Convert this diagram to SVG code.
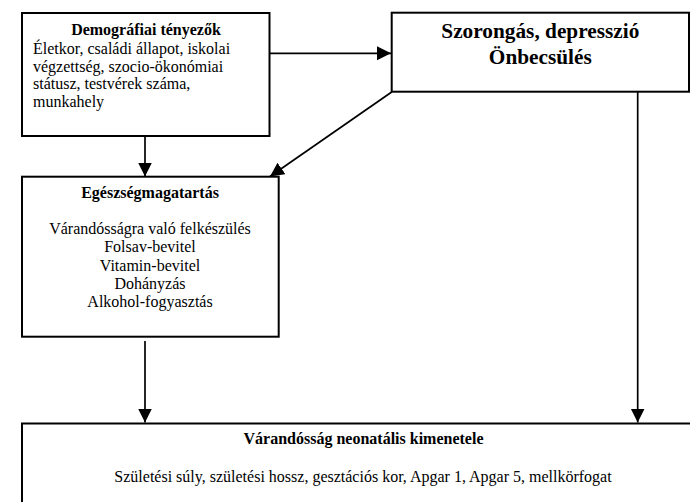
<svg xmlns="http://www.w3.org/2000/svg" width="690" height="502" viewBox="0 0 690 502">
  <style>
    .box { fill: #ffffff; stroke: #000000; stroke-width: 2; }
    .txt { font-family: "Liberation Serif", "Times New Roman", serif; font-size: 16px; fill: #000000; }
    .b { font-weight: bold; }
    .c { text-anchor: middle; }
    .big { font-size: 21.3px; }
    .conn { stroke: #000000; stroke-width: 1.7; fill: none; marker-end: url(#arrow); }
  </style>
  <defs>
    <marker id="arrow" markerUnits="userSpaceOnUse" markerWidth="15" markerHeight="15" refX="14" refY="7" orient="auto">
      <path d="M0,0 L14,7 L0,14 Z" fill="#000000"/>
    </marker>
  </defs>
  <rect width="690" height="502" fill="#ffffff"/>

  <!-- connectors -->
  <g id="connectors">
    <line class="conn" x1="269.5" y1="53.3" x2="391" y2="53.3"/>
    <line class="conn" x1="145" y1="136" x2="145" y2="176.5"/>
    <line class="conn" x1="391.7" y1="92" x2="270" y2="176.5"/>
    <line class="conn" x1="145" y1="341" x2="145" y2="422.5"/>
    <line class="conn" x1="637.7" y1="92" x2="637.7" y2="422.5"/>
  </g>

  <!-- demographic factors -->
  <g id="demografiai">
    <rect class="box" x="22" y="13" width="247.5" height="123"/>
    <text class="txt b c" x="146" y="35">Demográfiai tényezők</text>
    <text class="txt" x="33" y="54">Életkor, családi állapot, iskolai</text>
    <text class="txt" x="33" y="71.5">végzettség, szocio-ökonómiai</text>
    <text class="txt" x="33" y="89">státusz, testvérek száma,</text>
    <text class="txt" x="33" y="106.5">munkahely</text>
  </g>

  <!-- anxiety, depression, self-esteem -->
  <g id="szorongas">
    <rect class="box" x="391.7" y="12.7" width="297.3" height="79"/>
    <text class="txt big b c" x="540.3" y="37.5">Szorongás, depresszió</text>
    <text class="txt big b c" x="540.3" y="63.5">Önbecsülés</text>
  </g>

  <!-- health behaviour -->
  <g id="egeszseg">
    <rect class="box" x="22" y="176.7" width="256.7" height="160"/>
    <text class="txt b c" x="150" y="197.5">Egészségmagatartás</text>
    <text class="txt c" x="150" y="234">Várandósságra való felkészülés</text>
    <text class="txt c" x="150" y="252.3">Folsav-bevitel</text>
    <text class="txt c" x="150" y="270.6">Vitamin-bevitel</text>
    <text class="txt c" x="150" y="288.9">Dohányzás</text>
    <text class="txt c" x="150" y="307.2">Alkohol-fogyasztás</text>
  </g>

  <!-- neonatal outcome -->
  <g id="kimenetel">
    <rect class="box" x="22" y="423.5" width="683" height="100"/>
    <text class="txt b c" x="363.5" y="443.5">Várandósság neonatális kimenetele</text>
    <text class="txt c" x="363" y="482">Születési súly, születési hossz, gesztációs kor, Apgar 1, Apgar 5, mellkörfogat</text>
  </g>
</svg>
